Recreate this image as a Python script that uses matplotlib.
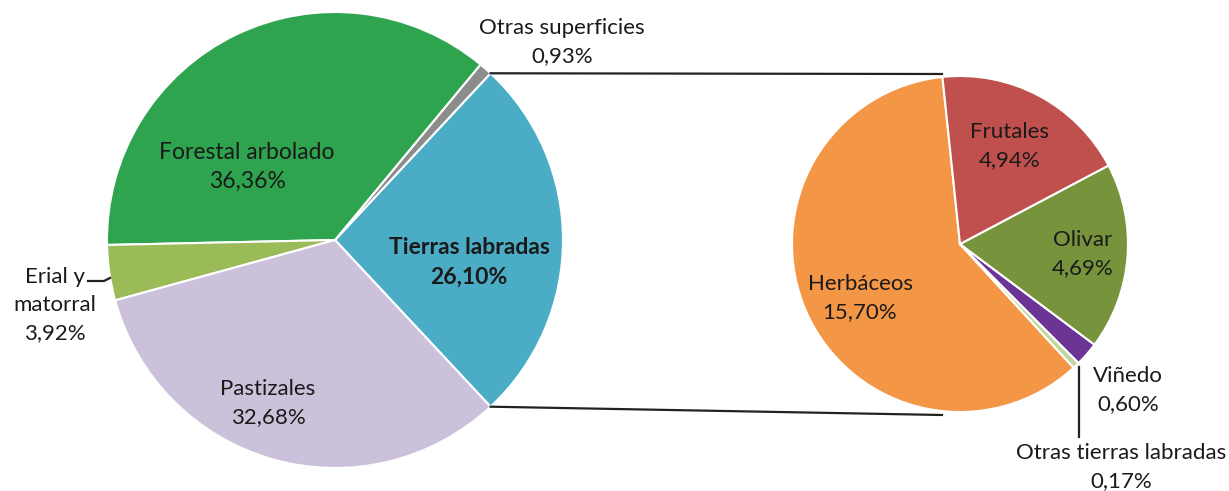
import numpy as np
import matplotlib.pyplot as plt

plt.rcParams['font.family'] = ['Lato', 'DejaVu Sans']

# main pie (% of total surface)
main_names = ["Tierras labradas", "Otras superficies", "Forestal arbolado", "Erial y\nmatorral", "Pastizales"]
main_vals = [26.10, 0.93, 36.36, 3.92, 32.68]
main_cols = ["#4bacc6", "#8c8c8c", "#2ea44f", "#9bbb59", "#ccc1da"]

# breakdown of "Tierras labradas"
sub_names = ["Herbáceos", "Otras tierras labradas", "Viñedo", "Olivar", "Frutales"]
sub_vals = [15.70, 0.17, 0.60, 4.69, 4.94]
sub_cols = ["#f39646", "#c3d69b", "#6b3495", "#77933c", "#c0504d"]

H = 491
fig = plt.figure(figsize=(12.29, 4.91), dpi=100)
ax = fig.add_axes([0, 0, 1, 1])

c1, r1 = (335, H - 240), 228
c2, r2 = (960, H - 244), 168

start1 = -main_vals[0] / 100 * 360 / 2
w1, _ = ax.pie(main_vals, colors=main_cols, center=c1, radius=r1, startangle=start1,
               counterclock=True, wedgeprops=dict(edgecolor="white", linewidth=1.5))
w2, _ = ax.pie(sub_vals, colors=sub_cols, center=c2, radius=r2, startangle=96,
               counterclock=True, wedgeprops=dict(edgecolor="white", linewidth=1.5))

# connector lines
a_top = np.deg2rad(w1[0].theta2)
a_bot = np.deg2rad(w1[0].theta1)
x_end = c2[0] - 18
ax.plot([c1[0] + r1 * np.cos(a_top), x_end], [c1[1] + r1 * np.sin(a_top), c2[1] + r2 + 2],
        color="#222222", lw=1.6)
ax.plot([c1[0] + r1 * np.cos(a_bot), x_end], [c1[1] + r1 * np.sin(a_bot), c2[1] - r2 - 3],
        color="#222222", lw=1.6)

def lab(x, y, name, val, bold=False, fs=16):
    ax.text(x, H - y, name + "\n" + ("%.2f" % val).replace(".", ",") + "%",
            ha="center", va="center", fontsize=fs, color="#1a1a1a",
            fontweight="bold" if bold else "normal", linespacing=1.5)

lab(247, 167, main_names[2], main_vals[2], fs=16.5)
lab(469, 262, main_names[0], main_vals[0], bold=True, fs=16.5)
lab(268, 403, main_names[4], main_vals[4])
lab(55, 305, main_names[3], main_vals[3])
lab(562, 42, main_names[1], main_vals[1])
lab(1010, 146, sub_names[4], sub_vals[4])
lab(1083, 254, sub_names[3], sub_vals[3])
lab(860, 298, sub_names[0], sub_vals[0])
lab(1128, 390, sub_names[2], sub_vals[2])
lab(1121, 467, sub_names[1], sub_vals[1])

# leader lines
ax.plot([88, 104, 110], [H - 281, H - 281, H - 278], color="#222222", lw=1.6)
ax.plot([1079, 1079], [H - 367, H - 437], color="#222222", lw=1.6)

ax.set_xlim(0, 1229)
ax.set_ylim(0, H)
ax.set_aspect("equal")
ax.axis("off")
fig.savefig("out.png", dpi=100)
